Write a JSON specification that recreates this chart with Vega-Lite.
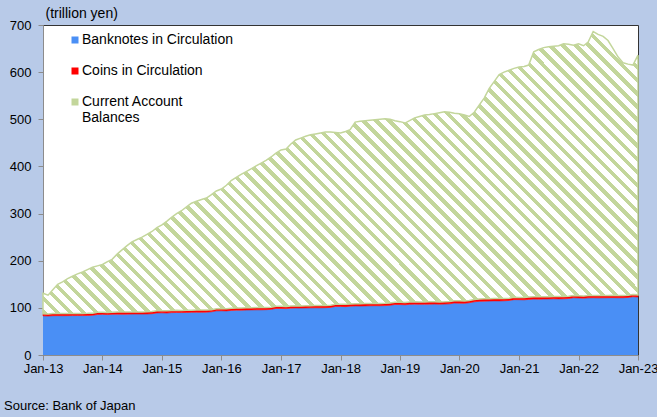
{
"$schema": "https://vega.github.io/schema/vega-lite/v6.json",
"width": 595,
"height": 330,
"autosize": {"type": "none"},
"padding": {"left": 43, "top": 25, "right": 19, "bottom": 62},
"background": "#b8cae8",
"config": {
  "font": "Liberation Sans",
  "view": {"fill": "#ffffff", "stroke": "#333333", "strokeWidth": 1},
  "axis": {"labelFont": "Liberation Sans", "labelFontSize": 13, "labelColor": "#000000", "domainColor": "#8c8c8c", "tickColor": "#8c8c8c", "tickSize": 5, "grid": false, "zindex": 1}
},
"title": {"text": "Source: Bank of Japan", "orient": "bottom", "anchor": "start", "frame": "group", "dx": -39, "offset": 25, "fontSize": 13, "fontWeight": "normal", "font": "Liberation Sans", "color": "#000000"},
"data": {"values": [
{"d":"2013-01-01","banknotes":83.0,"coins":4.5,"current":43.5},
{"d":"2013-02-01","banknotes":82.6,"coins":4.5,"current":39.9},
{"d":"2013-03-01","banknotes":83.3,"coins":4.5,"current":50.2},
{"d":"2013-04-01","banknotes":83.5,"coins":4.5,"current":62.0},
{"d":"2013-05-01","banknotes":83.3,"coins":4.5,"current":67.2},
{"d":"2013-06-01","banknotes":83.5,"coins":4.5,"current":74.0},
{"d":"2013-07-01","banknotes":83.6,"coins":4.5,"current":78.9},
{"d":"2013-08-01","banknotes":83.7,"coins":4.5,"current":83.8},
{"d":"2013-09-01","banknotes":83.6,"coins":4.5,"current":87.9},
{"d":"2013-10-01","banknotes":83.8,"coins":4.5,"current":92.7},
{"d":"2013-11-01","banknotes":84.3,"coins":4.5,"current":97.2},
{"d":"2013-12-01","banknotes":86.0,"coins":4.5,"current":98.5},
{"d":"2014-01-01","banknotes":86.2,"coins":4.5,"current":101.3},
{"d":"2014-02-01","banknotes":85.8,"coins":4.5,"current":107.7},
{"d":"2014-03-01","banknotes":86.4,"coins":4.5,"current":112.1},
{"d":"2014-04-01","banknotes":86.7,"coins":4.5,"current":122.8},
{"d":"2014-05-01","banknotes":86.5,"coins":4.5,"current":132.0},
{"d":"2014-06-01","banknotes":86.7,"coins":4.5,"current":140.8},
{"d":"2014-07-01","banknotes":86.8,"coins":4.5,"current":148.7},
{"d":"2014-08-01","banknotes":86.9,"coins":4.5,"current":153.6},
{"d":"2014-09-01","banknotes":86.8,"coins":4.5,"current":158.7},
{"d":"2014-10-01","banknotes":87.0,"coins":4.5,"current":164.5},
{"d":"2014-11-01","banknotes":87.6,"coins":4.5,"current":169.9},
{"d":"2014-12-01","banknotes":89.3,"coins":4.5,"current":176.2},
{"d":"2015-01-01","banknotes":89.4,"coins":4.6,"current":182.0},
{"d":"2015-02-01","banknotes":89.1,"coins":4.6,"current":190.3},
{"d":"2015-03-01","banknotes":89.9,"coins":4.6,"current":197.5},
{"d":"2015-04-01","banknotes":90.2,"coins":4.6,"current":205.2},
{"d":"2015-05-01","banknotes":90.0,"coins":4.6,"current":211.4},
{"d":"2015-06-01","banknotes":90.3,"coins":4.6,"current":219.1},
{"d":"2015-07-01","banknotes":90.5,"coins":4.6,"current":226.9},
{"d":"2015-08-01","banknotes":90.7,"coins":4.6,"current":230.7},
{"d":"2015-09-01","banknotes":90.6,"coins":4.6,"current":234.8},
{"d":"2015-10-01","banknotes":90.9,"coins":4.6,"current":237.5},
{"d":"2015-11-01","banknotes":91.6,"coins":4.6,"current":243.8},
{"d":"2015-12-01","banknotes":93.6,"coins":4.6,"current":249.8},
{"d":"2016-01-01","banknotes":93.8,"coins":4.7,"current":253.5},
{"d":"2016-02-01","banknotes":93.5,"coins":4.7,"current":261.8},
{"d":"2016-03-01","banknotes":94.6,"coins":4.7,"current":270.7},
{"d":"2016-04-01","banknotes":95.1,"coins":4.7,"current":277.2},
{"d":"2016-05-01","banknotes":95.0,"coins":4.7,"current":283.3},
{"d":"2016-06-01","banknotes":95.4,"coins":4.7,"current":288.9},
{"d":"2016-07-01","banknotes":95.6,"coins":4.7,"current":294.7},
{"d":"2016-08-01","banknotes":95.8,"coins":4.7,"current":300.5},
{"d":"2016-09-01","banknotes":95.8,"coins":4.7,"current":306.5},
{"d":"2016-10-01","banknotes":96.1,"coins":4.7,"current":312.2},
{"d":"2016-11-01","banknotes":96.8,"coins":4.7,"current":318.5},
{"d":"2016-12-01","banknotes":98.8,"coins":4.7,"current":324.5},
{"d":"2017-01-01","banknotes":98.8,"coins":4.7,"current":331.5},
{"d":"2017-02-01","banknotes":98.4,"coins":4.7,"current":333.9},
{"d":"2017-03-01","banknotes":99.4,"coins":4.7,"current":342.9},
{"d":"2017-04-01","banknotes":99.7,"coins":4.7,"current":351.6},
{"d":"2017-05-01","banknotes":99.5,"coins":4.7,"current":355.8},
{"d":"2017-06-01","banknotes":99.8,"coins":4.7,"current":359.5},
{"d":"2017-07-01","banknotes":100.0,"coins":4.7,"current":362.3},
{"d":"2017-08-01","banknotes":100.2,"coins":4.7,"current":364.1},
{"d":"2017-09-01","banknotes":100.1,"coins":4.7,"current":366.2},
{"d":"2017-10-01","banknotes":100.4,"coins":4.7,"current":367.9},
{"d":"2017-11-01","banknotes":101.0,"coins":4.7,"current":367.3},
{"d":"2017-12-01","banknotes":103.0,"coins":4.7,"current":364.3},
{"d":"2018-01-01","banknotes":103.0,"coins":4.8,"current":363.2},
{"d":"2018-02-01","banknotes":102.6,"coins":4.8,"current":366.6},
{"d":"2018-03-01","banknotes":103.6,"coins":4.8,"current":369.6},
{"d":"2018-04-01","banknotes":104.1,"coins":4.8,"current":385.1},
{"d":"2018-05-01","banknotes":103.8,"coins":4.8,"current":387.4},
{"d":"2018-06-01","banknotes":104.2,"coins":4.8,"current":388.0},
{"d":"2018-07-01","banknotes":104.4,"coins":4.8,"current":388.8},
{"d":"2018-08-01","banknotes":104.6,"coins":4.8,"current":389.6},
{"d":"2018-09-01","banknotes":104.5,"coins":4.8,"current":390.7},
{"d":"2018-10-01","banknotes":104.8,"coins":4.8,"current":391.4},
{"d":"2018-11-01","banknotes":105.4,"coins":4.8,"current":389.8},
{"d":"2018-12-01","banknotes":107.2,"coins":4.8,"current":385.0},
{"d":"2019-01-01","banknotes":107.0,"coins":4.8,"current":383.2},
{"d":"2019-02-01","banknotes":106.6,"coins":4.8,"current":380.6},
{"d":"2019-03-01","banknotes":107.4,"coins":4.8,"current":384.8},
{"d":"2019-04-01","banknotes":107.9,"coins":4.8,"current":390.3},
{"d":"2019-05-01","banknotes":107.5,"coins":4.8,"current":393.7},
{"d":"2019-06-01","banknotes":107.7,"coins":4.8,"current":396.5},
{"d":"2019-07-01","banknotes":107.9,"coins":4.8,"current":397.3},
{"d":"2019-08-01","banknotes":108.0,"coins":4.8,"current":399.2},
{"d":"2019-09-01","banknotes":107.8,"coins":4.8,"current":401.4},
{"d":"2019-10-01","banknotes":108.0,"coins":4.8,"current":403.2},
{"d":"2019-11-01","banknotes":108.5,"coins":4.8,"current":401.7},
{"d":"2019-12-01","banknotes":110.2,"coins":4.8,"current":398.0},
{"d":"2020-01-01","banknotes":110.0,"coins":4.9,"current":397.1},
{"d":"2020-02-01","banknotes":109.7,"coins":4.9,"current":394.4},
{"d":"2020-03-01","banknotes":110.9,"coins":4.9,"current":390.2},
{"d":"2020-04-01","banknotes":112.8,"coins":4.9,"current":397.3},
{"d":"2020-05-01","banknotes":113.8,"coins":4.9,"current":411.3},
{"d":"2020-06-01","banknotes":114.2,"coins":4.9,"current":425.9},
{"d":"2020-07-01","banknotes":114.4,"coins":4.9,"current":445.7},
{"d":"2020-08-01","banknotes":114.8,"coins":4.9,"current":460.3},
{"d":"2020-09-01","banknotes":114.7,"coins":4.9,"current":475.4},
{"d":"2020-10-01","banknotes":115.0,"coins":4.9,"current":480.1},
{"d":"2020-11-01","banknotes":115.7,"coins":4.9,"current":483.4},
{"d":"2020-12-01","banknotes":117.4,"coins":4.9,"current":485.7},
{"d":"2021-01-01","banknotes":117.3,"coins":4.9,"current":488.8},
{"d":"2021-02-01","banknotes":117.0,"coins":4.9,"current":490.1},
{"d":"2021-03-01","banknotes":117.9,"coins":4.9,"current":492.2},
{"d":"2021-04-01","banknotes":118.6,"coins":4.9,"current":519.5},
{"d":"2021-05-01","banknotes":118.5,"coins":4.9,"current":524.6},
{"d":"2021-06-01","banknotes":118.8,"coins":4.9,"current":528.3},
{"d":"2021-07-01","banknotes":118.9,"coins":4.9,"current":530.2},
{"d":"2021-08-01","banknotes":119.2,"coins":4.9,"current":530.9},
{"d":"2021-09-01","banknotes":119.0,"coins":4.9,"current":532.1},
{"d":"2021-10-01","banknotes":119.2,"coins":4.9,"current":535.9},
{"d":"2021-11-01","banknotes":119.8,"coins":4.9,"current":534.3},
{"d":"2021-12-01","banknotes":121.4,"coins":4.9,"current":530.7},
{"d":"2022-01-01","banknotes":121.0,"coins":4.8,"current":534.2},
{"d":"2022-02-01","banknotes":120.6,"coins":4.8,"current":530.6},
{"d":"2022-03-01","banknotes":121.2,"coins":4.8,"current":538.0},
{"d":"2022-04-01","banknotes":121.5,"coins":4.8,"current":559.7},
{"d":"2022-05-01","banknotes":121.2,"coins":4.8,"current":554.0},
{"d":"2022-06-01","banknotes":121.4,"coins":4.8,"current":549.8},
{"d":"2022-07-01","banknotes":121.5,"coins":4.8,"current":540.7},
{"d":"2022-08-01","banknotes":121.7,"coins":4.8,"current":523.5},
{"d":"2022-09-01","banknotes":121.4,"coins":4.8,"current":505.8},
{"d":"2022-10-01","banknotes":121.5,"coins":4.8,"current":493.7},
{"d":"2022-11-01","banknotes":122.1,"coins":4.8,"current":490.1},
{"d":"2022-12-01","banknotes":123.6,"coins":4.8,"current":486.6},
{"d":"2023-01-01","banknotes":122.8,"coins":4.8,"current":508.4}
]},
"transform": [
  {"fold": ["banknotes", "coins", "current"], "as": ["key", "value"]},
  {"stack": "value", "groupby": ["d"], "sort": [{"field": "key", "order": "ascending"}], "as": ["v0", "v1"]}
],
"encoding": {
  "x": {"field": "d", "type": "temporal",
    "scale": {"type": "utc", "domain": [{"year": 2013, "month": 1, "date": 1, "utc": true}, {"year": 2023, "month": 1, "date": 1, "utc": true}], "nice": false},
    "axis": {"title": null, "format": "%b-%y", "tickCount": {"interval": "year", "step": 1}, "labelPadding": 2, "labelFlush": false, "labelOverlap": false, "labelBound": false}},
  "y": {"field": "v1", "type": "quantitative",
    "scale": {"domain": [0, 700], "nice": false},
    "axis": {"title": "(trillion yen)", "titleAngle": 0, "titleX": 2, "titleY": -12, "titleAlign": "left", "titleBaseline": "middle", "titleFontSize": 14, "titleFontWeight": "normal", "titleFont": "Liberation Sans", "titleColor": "#000000", "values": [0, 100, 200, 300, 400, 500, 600, 700], "labelPadding": 7}},
  "y2": {"field": "v0"}
},
"layer": [
  {"transform": [{"filter": "datum.key === 'banknotes'"}],
   "mark": {"type": "area"},
   "encoding": {"color": {"field": "key", "type": "nominal",
     "scale": {"domain": ["banknotes", "coins", "current"], "range": ["#4a8ff5", "#ff0000", "#c3d69b"]},
     "legend": {"title": null, "orient": "none", "legendX": 25, "legendY": 8, "symbolType": "square", "symbolSize": 49, "symbolStrokeWidth": 0, "symbolOpacity": 1, "labelFontSize": 14, "labelFont": "Liberation Sans", "labelColor": "#000000", "labelOffset": 0, "rowPadding": 17, "padding": 0, "labelLimit": 400,
       "labelExpr": "datum.label === 'banknotes' ? 'Banknotes in Circulation' : datum.label === 'coins' ? 'Coins in Circulation' : ['Current Account', 'Balances']"}}}},
  {"transform": [{"filter": "datum.key === 'coins'"}],
   "mark": {"type": "area", "stroke": "#ff0000", "strokeWidth": 0.6},
   "encoding": {"color": {"field": "key", "type": "nominal",
     "scale": {"domain": ["banknotes", "coins", "current"], "range": ["#4a8ff5", "#ff0000", "#c3d69b"]},
     "legend": {"title": null, "orient": "none", "legendX": 25, "legendY": 8, "symbolType": "square", "symbolSize": 49, "symbolStrokeWidth": 0, "symbolOpacity": 1, "labelFontSize": 14, "labelFont": "Liberation Sans", "labelColor": "#000000", "labelOffset": 0, "rowPadding": 17, "padding": 0, "labelLimit": 400,
       "labelExpr": "datum.label === 'banknotes' ? 'Banknotes in Circulation' : datum.label === 'coins' ? 'Coins in Circulation' : ['Current Account', 'Balances']"}}}},
  {"transform": [{"filter": "datum.key === 'current'"}],
   "mark": {"type": "area", "stroke": "#c3d69b", "strokeWidth": 1.5,
     "fill": {"gradient": "linear", "x1": 0, "y1": 1, "x2": 1.2036, "y2": 0.429, "stops": [
{"offset":0,"color":"#c3d69b"},{"offset":0.00627,"color":"#c3d69b"},{"offset":0.00627,"color":"#ffffff"},{"offset":0.01493,"color":"#ffffff"},
{"offset":0.01493,"color":"#c3d69b"},{"offset":0.0212,"color":"#c3d69b"},{"offset":0.0212,"color":"#ffffff"},{"offset":0.02985,"color":"#ffffff"},
{"offset":0.02985,"color":"#c3d69b"},{"offset":0.03612,"color":"#c3d69b"},{"offset":0.03612,"color":"#ffffff"},{"offset":0.04478,"color":"#ffffff"},
{"offset":0.04478,"color":"#c3d69b"},{"offset":0.05105,"color":"#c3d69b"},{"offset":0.05105,"color":"#ffffff"},{"offset":0.0597,"color":"#ffffff"},
{"offset":0.0597,"color":"#c3d69b"},{"offset":0.06597,"color":"#c3d69b"},{"offset":0.06597,"color":"#ffffff"},{"offset":0.07463,"color":"#ffffff"},
{"offset":0.07463,"color":"#c3d69b"},{"offset":0.0809,"color":"#c3d69b"},{"offset":0.0809,"color":"#ffffff"},{"offset":0.08955,"color":"#ffffff"},
{"offset":0.08955,"color":"#c3d69b"},{"offset":0.09582,"color":"#c3d69b"},{"offset":0.09582,"color":"#ffffff"},{"offset":0.10448,"color":"#ffffff"},
{"offset":0.10448,"color":"#c3d69b"},{"offset":0.11075,"color":"#c3d69b"},{"offset":0.11075,"color":"#ffffff"},{"offset":0.1194,"color":"#ffffff"},
{"offset":0.1194,"color":"#c3d69b"},{"offset":0.12567,"color":"#c3d69b"},{"offset":0.12567,"color":"#ffffff"},{"offset":0.13433,"color":"#ffffff"},
{"offset":0.13433,"color":"#c3d69b"},{"offset":0.1406,"color":"#c3d69b"},{"offset":0.1406,"color":"#ffffff"},{"offset":0.14925,"color":"#ffffff"},
{"offset":0.14925,"color":"#c3d69b"},{"offset":0.15552,"color":"#c3d69b"},{"offset":0.15552,"color":"#ffffff"},{"offset":0.16418,"color":"#ffffff"},
{"offset":0.16418,"color":"#c3d69b"},{"offset":0.17045,"color":"#c3d69b"},{"offset":0.17045,"color":"#ffffff"},{"offset":0.1791,"color":"#ffffff"},
{"offset":0.1791,"color":"#c3d69b"},{"offset":0.18537,"color":"#c3d69b"},{"offset":0.18537,"color":"#ffffff"},{"offset":0.19403,"color":"#ffffff"},
{"offset":0.19403,"color":"#c3d69b"},{"offset":0.2003,"color":"#c3d69b"},{"offset":0.2003,"color":"#ffffff"},{"offset":0.20896,"color":"#ffffff"},
{"offset":0.20896,"color":"#c3d69b"},{"offset":0.21523,"color":"#c3d69b"},{"offset":0.21523,"color":"#ffffff"},{"offset":0.22388,"color":"#ffffff"},
{"offset":0.22388,"color":"#c3d69b"},{"offset":0.23015,"color":"#c3d69b"},{"offset":0.23015,"color":"#ffffff"},{"offset":0.23881,"color":"#ffffff"},
{"offset":0.23881,"color":"#c3d69b"},{"offset":0.24508,"color":"#c3d69b"},{"offset":0.24508,"color":"#ffffff"},{"offset":0.25373,"color":"#ffffff"},
{"offset":0.25373,"color":"#c3d69b"},{"offset":0.26,"color":"#c3d69b"},{"offset":0.26,"color":"#ffffff"},{"offset":0.26866,"color":"#ffffff"},
{"offset":0.26866,"color":"#c3d69b"},{"offset":0.27493,"color":"#c3d69b"},{"offset":0.27493,"color":"#ffffff"},{"offset":0.28358,"color":"#ffffff"},
{"offset":0.28358,"color":"#c3d69b"},{"offset":0.28985,"color":"#c3d69b"},{"offset":0.28985,"color":"#ffffff"},{"offset":0.29851,"color":"#ffffff"},
{"offset":0.29851,"color":"#c3d69b"},{"offset":0.30478,"color":"#c3d69b"},{"offset":0.30478,"color":"#ffffff"},{"offset":0.31343,"color":"#ffffff"},
{"offset":0.31343,"color":"#c3d69b"},{"offset":0.3197,"color":"#c3d69b"},{"offset":0.3197,"color":"#ffffff"},{"offset":0.32836,"color":"#ffffff"},
{"offset":0.32836,"color":"#c3d69b"},{"offset":0.33463,"color":"#c3d69b"},{"offset":0.33463,"color":"#ffffff"},{"offset":0.34328,"color":"#ffffff"},
{"offset":0.34328,"color":"#c3d69b"},{"offset":0.34955,"color":"#c3d69b"},{"offset":0.34955,"color":"#ffffff"},{"offset":0.35821,"color":"#ffffff"},
{"offset":0.35821,"color":"#c3d69b"},{"offset":0.36448,"color":"#c3d69b"},{"offset":0.36448,"color":"#ffffff"},{"offset":0.37313,"color":"#ffffff"},
{"offset":0.37313,"color":"#c3d69b"},{"offset":0.3794,"color":"#c3d69b"},{"offset":0.3794,"color":"#ffffff"},{"offset":0.38806,"color":"#ffffff"},
{"offset":0.38806,"color":"#c3d69b"},{"offset":0.39433,"color":"#c3d69b"},{"offset":0.39433,"color":"#ffffff"},{"offset":0.40299,"color":"#ffffff"},
{"offset":0.40299,"color":"#c3d69b"},{"offset":0.40926,"color":"#c3d69b"},{"offset":0.40926,"color":"#ffffff"},{"offset":0.41791,"color":"#ffffff"},
{"offset":0.41791,"color":"#c3d69b"},{"offset":0.42418,"color":"#c3d69b"},{"offset":0.42418,"color":"#ffffff"},{"offset":0.43284,"color":"#ffffff"},
{"offset":0.43284,"color":"#c3d69b"},{"offset":0.43911,"color":"#c3d69b"},{"offset":0.43911,"color":"#ffffff"},{"offset":0.44776,"color":"#ffffff"},
{"offset":0.44776,"color":"#c3d69b"},{"offset":0.45403,"color":"#c3d69b"},{"offset":0.45403,"color":"#ffffff"},{"offset":0.46269,"color":"#ffffff"},
{"offset":0.46269,"color":"#c3d69b"},{"offset":0.46896,"color":"#c3d69b"},{"offset":0.46896,"color":"#ffffff"},{"offset":0.47761,"color":"#ffffff"},
{"offset":0.47761,"color":"#c3d69b"},{"offset":0.48388,"color":"#c3d69b"},{"offset":0.48388,"color":"#ffffff"},{"offset":0.49254,"color":"#ffffff"},
{"offset":0.49254,"color":"#c3d69b"},{"offset":0.49881,"color":"#c3d69b"},{"offset":0.49881,"color":"#ffffff"},{"offset":0.50746,"color":"#ffffff"},
{"offset":0.50746,"color":"#c3d69b"},{"offset":0.51373,"color":"#c3d69b"},{"offset":0.51373,"color":"#ffffff"},{"offset":0.52239,"color":"#ffffff"},
{"offset":0.52239,"color":"#c3d69b"},{"offset":0.52866,"color":"#c3d69b"},{"offset":0.52866,"color":"#ffffff"},{"offset":0.53731,"color":"#ffffff"},
{"offset":0.53731,"color":"#c3d69b"},{"offset":0.54358,"color":"#c3d69b"},{"offset":0.54358,"color":"#ffffff"},{"offset":0.55224,"color":"#ffffff"},
{"offset":0.55224,"color":"#c3d69b"},{"offset":0.55851,"color":"#c3d69b"},{"offset":0.55851,"color":"#ffffff"},{"offset":0.56716,"color":"#ffffff"},
{"offset":0.56716,"color":"#c3d69b"},{"offset":0.57343,"color":"#c3d69b"},{"offset":0.57343,"color":"#ffffff"},{"offset":0.58209,"color":"#ffffff"},
{"offset":0.58209,"color":"#c3d69b"},{"offset":0.58836,"color":"#c3d69b"},{"offset":0.58836,"color":"#ffffff"},{"offset":0.59701,"color":"#ffffff"},
{"offset":0.59701,"color":"#c3d69b"},{"offset":0.60328,"color":"#c3d69b"},{"offset":0.60328,"color":"#ffffff"},{"offset":0.61194,"color":"#ffffff"},
{"offset":0.61194,"color":"#c3d69b"},{"offset":0.61821,"color":"#c3d69b"},{"offset":0.61821,"color":"#ffffff"},{"offset":0.62687,"color":"#ffffff"},
{"offset":0.62687,"color":"#c3d69b"},{"offset":0.63314,"color":"#c3d69b"},{"offset":0.63314,"color":"#ffffff"},{"offset":0.64179,"color":"#ffffff"},
{"offset":0.64179,"color":"#c3d69b"},{"offset":0.64806,"color":"#c3d69b"},{"offset":0.64806,"color":"#ffffff"},{"offset":0.65672,"color":"#ffffff"},
{"offset":0.65672,"color":"#c3d69b"},{"offset":0.66299,"color":"#c3d69b"},{"offset":0.66299,"color":"#ffffff"},{"offset":0.67164,"color":"#ffffff"},
{"offset":0.67164,"color":"#c3d69b"},{"offset":0.67791,"color":"#c3d69b"},{"offset":0.67791,"color":"#ffffff"},{"offset":0.68657,"color":"#ffffff"},
{"offset":0.68657,"color":"#c3d69b"},{"offset":0.69284,"color":"#c3d69b"},{"offset":0.69284,"color":"#ffffff"},{"offset":0.70149,"color":"#ffffff"},
{"offset":0.70149,"color":"#c3d69b"},{"offset":0.70776,"color":"#c3d69b"},{"offset":0.70776,"color":"#ffffff"},{"offset":0.71642,"color":"#ffffff"},
{"offset":0.71642,"color":"#c3d69b"},{"offset":0.72269,"color":"#c3d69b"},{"offset":0.72269,"color":"#ffffff"},{"offset":0.73134,"color":"#ffffff"},
{"offset":0.73134,"color":"#c3d69b"},{"offset":0.73761,"color":"#c3d69b"},{"offset":0.73761,"color":"#ffffff"},{"offset":0.74627,"color":"#ffffff"},
{"offset":0.74627,"color":"#c3d69b"},{"offset":0.75254,"color":"#c3d69b"},{"offset":0.75254,"color":"#ffffff"},{"offset":0.76119,"color":"#ffffff"},
{"offset":0.76119,"color":"#c3d69b"},{"offset":0.76746,"color":"#c3d69b"},{"offset":0.76746,"color":"#ffffff"},{"offset":0.77612,"color":"#ffffff"},
{"offset":0.77612,"color":"#c3d69b"},{"offset":0.78239,"color":"#c3d69b"},{"offset":0.78239,"color":"#ffffff"},{"offset":0.79104,"color":"#ffffff"},
{"offset":0.79104,"color":"#c3d69b"},{"offset":0.79731,"color":"#c3d69b"},{"offset":0.79731,"color":"#ffffff"},{"offset":0.80597,"color":"#ffffff"},
{"offset":0.80597,"color":"#c3d69b"},{"offset":0.81224,"color":"#c3d69b"},{"offset":0.81224,"color":"#ffffff"},{"offset":0.8209,"color":"#ffffff"},
{"offset":0.8209,"color":"#c3d69b"},{"offset":0.82717,"color":"#c3d69b"},{"offset":0.82717,"color":"#ffffff"},{"offset":0.83582,"color":"#ffffff"},
{"offset":0.83582,"color":"#c3d69b"},{"offset":0.84209,"color":"#c3d69b"},{"offset":0.84209,"color":"#ffffff"},{"offset":0.85075,"color":"#ffffff"},
{"offset":0.85075,"color":"#c3d69b"},{"offset":0.85702,"color":"#c3d69b"},{"offset":0.85702,"color":"#ffffff"},{"offset":0.86567,"color":"#ffffff"},
{"offset":0.86567,"color":"#c3d69b"},{"offset":0.87194,"color":"#c3d69b"},{"offset":0.87194,"color":"#ffffff"},{"offset":0.8806,"color":"#ffffff"},
{"offset":0.8806,"color":"#c3d69b"},{"offset":0.88687,"color":"#c3d69b"},{"offset":0.88687,"color":"#ffffff"},{"offset":0.89552,"color":"#ffffff"},
{"offset":0.89552,"color":"#c3d69b"},{"offset":0.90179,"color":"#c3d69b"},{"offset":0.90179,"color":"#ffffff"},{"offset":0.91045,"color":"#ffffff"},
{"offset":0.91045,"color":"#c3d69b"},{"offset":0.91672,"color":"#c3d69b"},{"offset":0.91672,"color":"#ffffff"},{"offset":0.92537,"color":"#ffffff"},
{"offset":0.92537,"color":"#c3d69b"},{"offset":0.93164,"color":"#c3d69b"},{"offset":0.93164,"color":"#ffffff"},{"offset":0.9403,"color":"#ffffff"},
{"offset":0.9403,"color":"#c3d69b"},{"offset":0.94657,"color":"#c3d69b"},{"offset":0.94657,"color":"#ffffff"},{"offset":0.95522,"color":"#ffffff"},
{"offset":0.95522,"color":"#c3d69b"},{"offset":0.96149,"color":"#c3d69b"},{"offset":0.96149,"color":"#ffffff"},{"offset":0.97015,"color":"#ffffff"},
{"offset":0.97015,"color":"#c3d69b"},{"offset":0.97642,"color":"#c3d69b"},{"offset":0.97642,"color":"#ffffff"},{"offset":0.98507,"color":"#ffffff"},
{"offset":0.98507,"color":"#c3d69b"},{"offset":0.99134,"color":"#c3d69b"},{"offset":0.99134,"color":"#ffffff"},{"offset":1,"color":"#ffffff"}
]}},
   "encoding": {}}
]
}
